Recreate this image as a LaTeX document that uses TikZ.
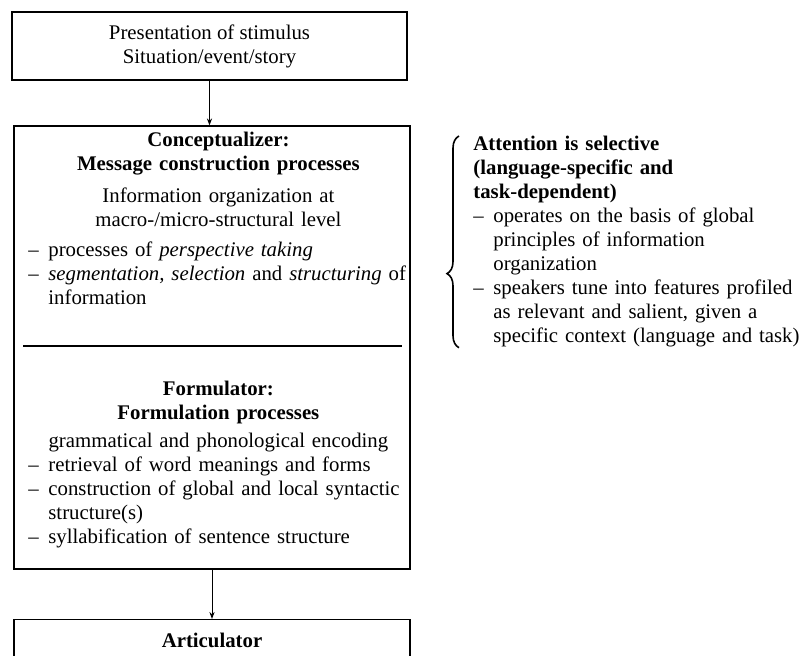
\documentclass[tikz,border=0pt]{standalone}
\usepackage{fontspec}
\setmainfont{Liberation Serif}
\usetikzlibrary{arrows.meta,decorations.pathreplacing}

\newcommand{\dashitem}[1]{\par\noindent\hangindent=10pt\hangafter=1\makebox[10pt][l]{--}#1\par}

\begin{document}
\begin{tikzpicture}[x=0.5pt,y=-0.5pt,
    every node/.style={font=\fontsize{10.4pt}{12pt}\selectfont},
    box/.style={draw,line width=0.6pt,inner sep=0pt},
    txt/.style={inner sep=0pt,anchor=north west,text width=#1},
    flow/.style={-{Stealth[length=3.5pt,width=2.6pt]},line width=0.5pt},
    sepline/.style={line width=1pt},
    curly/.style={decorate,decoration={brace,amplitude=6pt,aspect=0.35},line width=0.8pt}]

  \useasboundingbox (0,0) rectangle (803,656);
  \clip (0,0) rectangle (803,656);

  \begin{scope}[every node/.append style={box}]
    \node[minimum width=197.5pt,minimum height=34pt,align=center] (stim) at (209.5,46)
      {Presentation of stimulus\\Situation/event/story};
    \node[minimum width=198pt,minimum height=221.5pt] (proc) at (212,347.5) {};
    \node[minimum width=198pt,minimum height=21pt,anchor=north,font=\fontsize{10.4pt}{12pt}\selectfont\bfseries] (artic) at (212,619)
      {Articulator};
  \end{scope}

  % inside the processing box
  \node[txt=190pt] (concept) at (28,132) {%
    {\centering\bfseries Conceptualizer:\\ Message construction processes\par}
    \vspace{4pt}
    {\centering Information organization at\\ macro-/micro-structural level\par}
    \vspace{3pt}
    \dashitem{processes of \emph{perspective taking}}
    \dashitem{\mbox{\emph{segmentation, selection} and \emph{structuring} of}\newline\mbox{information}}};

  \coordinate (sepL) at (23,346);
  \coordinate (sepR) at (402,346);
  \draw[sepline] (sepL) -- (sepR);

  \node[txt=190pt] (formul) at (28,381) {%
    {\centering\bfseries Formulator:\\ Formulation processes\par}
    \vspace{2pt}
    {\centering grammatical and phonological encoding\par}
    \dashitem{retrieval of word meanings and forms}
    \dashitem{\mbox{construction of global and local syntactic}\newline\mbox{structure(s)}}
    \dashitem{syllabification of sentence structure}};

  % attention
  \node[txt=165pt] (attn) at (473,136) {%
    {\bfseries Attention is selective\newline (language-specific and\newline task-dependent)\par}
    \dashitem{\mbox{operates on the basis of global}\newline\mbox{principles of information}\newline\mbox{organization}}
    \dashitem{\mbox{speakers tune into features profiled}\newline\mbox{as relevant and salient, given a}\newline\mbox{specific context (language and task)}}};

  \draw[curly] ([xshift=-7pt]attn.south west) -- ([xshift=-7pt]attn.north west);

  \draw[flow] (stim.south) -- (stim.south |- proc.north);
  \draw[flow] (proc.south) -- (artic.north);

\end{tikzpicture}
\end{document}
